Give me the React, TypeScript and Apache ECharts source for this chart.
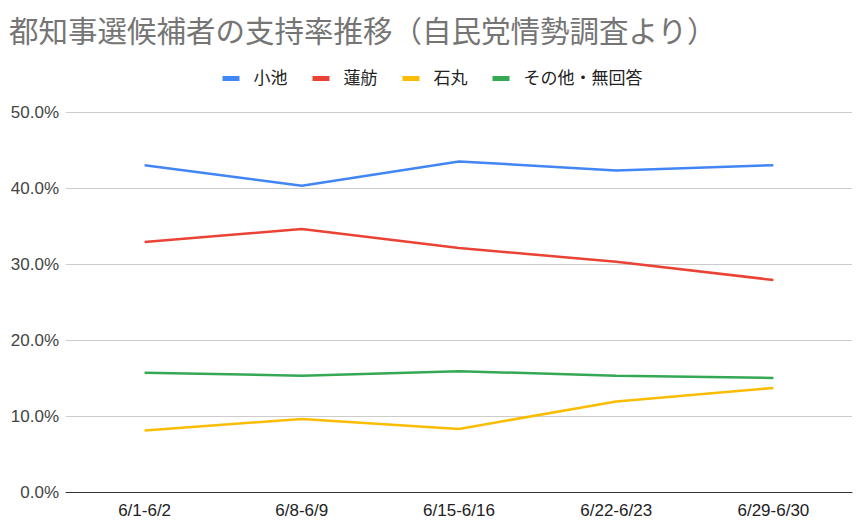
import React, { useEffect, useRef } from "react";
import * as echarts from "echarts";

const categories = ["6/1-6/2", "6/8-6/9", "6/15-6/16", "6/22-6/23", "6/29-6/30"];
const koike = [43.0, 40.3, 43.5, 42.3, 43.0];
const renho = [32.9, 34.6, 32.1, 30.3, 27.9];
const ishimaru = [8.1, 9.6, 8.3, 11.9, 13.7];
const others = [15.7, 15.3, 15.9, 15.3, 15.0];
const seriesNames = ["小池", "蓮舫", "石丸", "その他・無回答"];
const colors = ["#4285F4", "#EA4335", "#FBBC04", "#34A853"];
const titleText = "都知事選候補者の支持率推移（自民党情勢調査より）";

const FONT = '"Liberation Sans", Arial, "Noto Sans CJK JP", sans-serif';

export default function App() {
  const ref = useRef<HTMLDivElement>(null);
  useEffect(() => {
    if (!ref.current) return;
    const chart = echarts.init(ref.current, null, { renderer: "svg" });
    const data = [koike, renho, ishimaru, others];
    chart.setOption({
      animation: false,
      backgroundColor: "#ffffff",
      title: {
        text: titleText,
        left: 4,
        top: 12,
        textStyle: { fontFamily: FONT, fontSize: 29.5, fontWeight: "normal", color: "#757575" },
      },
      legend: {
        top: 65,
        left: "center",
        itemWidth: 17,
        itemHeight: 5,
        itemGap: 25,
        icon: "rect",
        textStyle: {
          fontFamily: FONT,
          fontSize: 17,
          color: "#222222",
          padding: [0, 0, 0, 9],
        },
        data: seriesNames,
      },
      grid: { left: 66, right: 13, top: 112, bottom: 32, containLabel: false },
      xAxis: {
        type: "category",
        data: categories,
        boundaryGap: true,
        axisLine: { lineStyle: { color: "#333333", width: 1 } },
        axisTick: { show: false },
        axisLabel: { fontFamily: FONT, fontSize: 17, color: "#222222", margin: 10 },
      },
      yAxis: {
        type: "value",
        min: 0,
        max: 50,
        interval: 10,
        axisLine: { show: false },
        axisTick: { show: false },
        splitLine: { lineStyle: { color: "#cccccc", width: 1 } },
        axisLabel: {
          fontFamily: FONT,
          fontSize: 17,
          color: "#444444",
          margin: 7,
          formatter: (v: number) => v.toFixed(1) + "%",
        },
      },
      series: seriesNames.map((name, i) => ({
        name,
        type: "line",
        data: data[i],
        symbol: "none",
        lineStyle: { color: colors[i], width: 2.5 },
        itemStyle: { color: colors[i] },
      })),
    });
    return () => chart.dispose();
  }, []);
  return (
    <div
      ref={ref}
      style={{ position: "fixed", left: 0, top: 0, width: 865, height: 524, background: "#fff" }}
    />
  );
}
